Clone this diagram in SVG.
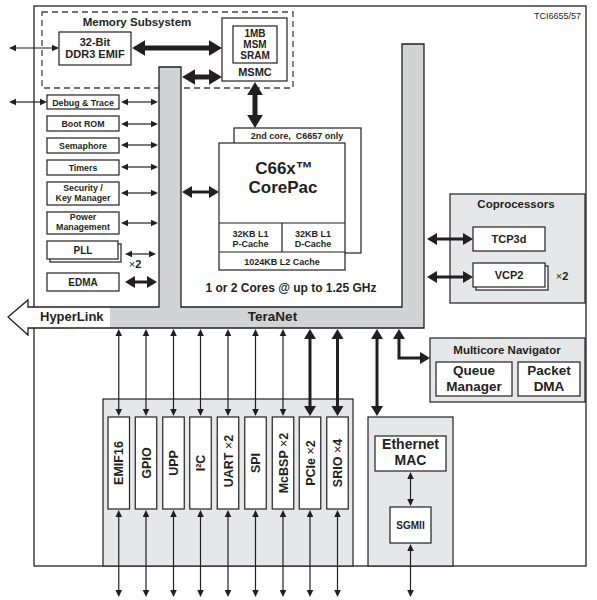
<svg xmlns="http://www.w3.org/2000/svg" width="597" height="600" viewBox="0 0 597 600">
<style>
text{font-family:"Liberation Sans",Arial,sans-serif;font-weight:bold;fill:#231f20;text-anchor:middle}
.box{fill:#fff;stroke:#231f20;stroke-width:1.2}
.panel{fill:#e6e7e8;stroke:#231f20;stroke-width:1.2}
.thin{fill:none;stroke:#231f20;stroke-width:1.2;marker-start:url(#ht);marker-end:url(#ht)}
.med{fill:none;stroke:#231f20;stroke-width:3;marker-start:url(#hm);marker-end:url(#hm)}
.thick{fill:none;stroke:#231f20;stroke-width:5;marker-start:url(#hk);marker-end:url(#hk)}
.s9{font-size:8.8px}
.rot{font-size:12.5px}
</style>
<defs>
<marker id="ht" markerUnits="userSpaceOnUse" orient="auto-start-reverse" refX="1" refY="0" markerWidth="8" markerHeight="8" overflow="visible"><path d="M0,-3.3L7,0L0,3.3z" fill="#231f20"/></marker>
<marker id="hm" markerUnits="userSpaceOnUse" orient="auto-start-reverse" refX="1" refY="0" markerWidth="11" markerHeight="12" overflow="visible"><path d="M0,-6L10,0L0,6z" fill="#231f20"/></marker>
<marker id="hk" markerUnits="userSpaceOnUse" orient="auto-start-reverse" refX="1" refY="0" markerWidth="14" markerHeight="16" overflow="visible"><path d="M0,-7.8L13,0L0,7.8z" fill="#231f20"/></marker>
</defs>
<rect width="597" height="600" fill="#fff"/>
<g id="device">
<rect x="34" y="6" width="552" height="560" fill="#fff" stroke="#231f20" stroke-width="1.3"/>
<text x="581" y="18.5" style="font-weight:normal;font-size:9px;text-anchor:end">TCI6655/57</text>
</g>
<g id="memory-subsystem">
<rect x="42" y="12" width="251" height="76" fill="none" stroke="#444" stroke-width="1.3" stroke-dasharray="6,4"/>
<text x="137" y="26" style="font-size:11.5px">Memory Subsystem</text>
</g>
<g id="teranet">
<path d="M159,67H181V307H402V44H424V328H110V307H159z" fill="#d1d3d4"/>
<path d="M110,307H28V300L8,317L28,335V328H110z" fill="#fff"/>
<path d="M159,307V67H181V307H402V44H424V328H28V335L8,317L28,300V307z" fill="none" stroke="#231f20" stroke-width="1.3"/>
<text x="40" y="321" style="font-size:13px;text-anchor:start">HyperLink</text>
<text x="272.5" y="321" style="font-size:13.5px">TeraNet</text>
</g>
<g id="ddr3-emif">
<rect class="box" x="59" y="32" width="72" height="33"/>
<text x="95" y="46" style="font-size:11px">32-Bit</text>
<text x="95" y="57.5" style="font-size:11px">DDR3 EMIF</text>
</g>
<g id="msmc">
<rect class="box" x="222" y="18" width="65" height="63"/>
<rect class="box" x="233" y="26" width="44" height="37"/>
<text x="255" y="37" style="font-size:10px">1MB</text>
<text x="255" y="48" style="font-size:10px">MSM</text>
<text x="255" y="59" style="font-size:10px">SRAM</text>
<text x="255" y="75.5" style="font-size:11px">MSMC</text>
</g>
<g id="debug-trace"><rect class="box" x="47" y="95" width="72" height="14"/><text class="s9" x="83" y="105.5">Debug &amp; Trace</text></g>
<g id="boot-rom"><rect class="box" x="47" y="116" width="72" height="15"/><text class="s9" x="83" y="127.3">Boot ROM</text></g>
<g id="semaphore"><rect class="box" x="47" y="138" width="72" height="15"/><text class="s9" x="83" y="149">Semaphore</text></g>
<g id="timers"><rect class="box" x="47" y="160" width="72" height="15"/><text class="s9" x="83" y="170.5">Timers</text></g>
<g id="security"><rect class="box" x="47" y="182" width="72" height="23"/><text class="s9" x="83" y="191">Security /</text><text class="s9" x="83" y="200.7">Key Manager</text></g>
<g id="power"><rect class="box" x="47" y="212" width="72" height="22"/><text class="s9" x="83" y="220.3">Power</text><text class="s9" x="83" y="230.3">Management</text></g>
<g id="pll"><rect class="box" x="50" y="244" width="71" height="18"/><rect class="box" x="47" y="241" width="71" height="18"/><text x="83" y="254" style="font-size:10px">PLL</text><text x="135" y="267.5" style="font-size:11px"><tspan style="font-weight:normal">×</tspan>2</text></g>
<g id="edma"><rect class="box" x="47" y="273" width="72" height="18"/><text x="83" y="286" style="font-size:10px">EDMA</text></g>
<g id="corepac">
<rect class="box" x="234" y="128" width="127" height="125"/>
<text x="297" y="139" style="font-size:9px" xml:space="preserve">2nd core,  C6657 only</text>
<rect class="box" x="219" y="143" width="126" height="127"/>
<line x1="219" y1="223" x2="345" y2="223" stroke="#231f20" stroke-width="1.2"/>
<line x1="219" y1="252" x2="345" y2="252" stroke="#231f20" stroke-width="1.2"/>
<line x1="282" y1="223" x2="282" y2="252" stroke="#231f20" stroke-width="1.2"/>
<text x="284" y="174" style="font-size:17px">C66x™</text>
<text x="283" y="193" style="font-size:17px">CorePac</text>
<text x="250.5" y="236.7" style="font-size:9px">32KB L1</text>
<text x="250.5" y="246.7" style="font-size:9px">P-Cache</text>
<text x="313" y="236.7" style="font-size:9px">32KB L1</text>
<text x="313" y="246.7" style="font-size:9px">D-Cache</text>
<text x="282" y="264.5" style="font-size:9px">1024KB L2 Cache</text>
<text x="291" y="292.3" style="font-size:12px">1 or 2 Cores @ up to 1.25 GHz</text>
</g>
<g id="coprocessors">
<rect class="panel" x="450" y="194" width="135" height="109"/>
<text x="516" y="207.7" style="font-size:11.5px">Coprocessors</text>
<g id="tcp3d"><rect class="box" x="473" y="227" width="72" height="24"/><text x="509" y="243.3" style="font-size:11px">TCP3d</text></g>
<g id="vcp2"><rect class="box" x="476" y="266" width="72" height="24"/><rect class="box" x="473" y="263" width="72" height="24"/><text x="509" y="279" style="font-size:11px">VCP2</text><text x="562" y="279.5" style="font-size:11px"><tspan style="font-weight:normal">×</tspan>2</text></g>
</g>
<g id="multicore-navigator">
<rect class="panel" x="430" y="338" width="155" height="64"/>
<text x="507" y="354" style="font-size:11.5px">Multicore Navigator</text>
<g id="queue-manager"><rect class="box" x="436" y="362" width="76" height="34"/><text x="474" y="375" style="font-size:13.5px">Queue</text><text x="474" y="391" style="font-size:13.5px">Manager</text></g>
<g id="packet-dma"><rect class="box" x="518" y="362" width="62" height="34"/><text x="549" y="375" style="font-size:13.5px">Packet</text><text x="549" y="391" style="font-size:13.5px">DMA</text></g>
</g>
<g id="peripherals">
<rect class="panel" x="103" y="399" width="250" height="167"/>
<g id="emif16"><rect class="box" x="108" y="417" width="21.5" height="92"/><text class="rot" transform="translate(118.75,463) rotate(-90)" y="4.5">EMIF16</text></g>
<g id="gpio"><rect class="box" x="135.25" y="417" width="21.5" height="92"/><text class="rot" transform="translate(146,463) rotate(-90)" y="4.5">GPIO</text></g>
<g id="upp"><rect class="box" x="162.75" y="417" width="21.5" height="92"/><text class="rot" transform="translate(173.5,463) rotate(-90)" y="4.5">UPP</text></g>
<g id="i2c"><rect class="box" x="189.75" y="417" width="21.5" height="92"/><text class="rot" transform="translate(200.5,463) rotate(-90)" y="4.5">I²C</text></g>
<g id="uart"><rect class="box" x="217.25" y="417" width="21.5" height="92"/><text class="rot" transform="translate(228,461) rotate(-90)" y="4.5" xml:space="preserve">UART <tspan style="font-weight:normal">×</tspan>2</text></g>
<g id="spi"><rect class="box" x="244.75" y="417" width="21.5" height="92"/><text class="rot" transform="translate(255.5,463) rotate(-90)" y="4.5">SPI</text></g>
<g id="mcbsp"><rect class="box" x="272.25" y="417" width="21.5" height="92"/><text class="rot" transform="translate(283,463) rotate(-90)" y="4.5" xml:space="preserve">McBSP <tspan style="font-weight:normal">×</tspan>2</text></g>
<g id="pcie"><rect class="box" x="299.25" y="417" width="21.5" height="92"/><text class="rot" transform="translate(310,463) rotate(-90)" y="4.5" xml:space="preserve">PCIe <tspan style="font-weight:normal">×</tspan>2</text></g>
<g id="srio"><rect class="box" x="326.75" y="417" width="21.5" height="92"/><text class="rot" transform="translate(337.5,463) rotate(-90)" y="4.5" xml:space="preserve">SRIO <tspan style="font-weight:normal">×</tspan>4</text></g>
</g>
<g id="ethernet">
<rect class="panel" x="368" y="417" width="85" height="149"/>
<g id="ethernet-mac"><rect class="box" x="375" y="436" width="71" height="35"/><text x="410.5" y="448.5" style="font-size:14px">Ethernet</text><text x="410.5" y="465" style="font-size:14px">MAC</text></g>
<g id="sgmii"><rect class="box" x="390" y="507" width="41" height="36"/><text x="410.5" y="528.5" style="font-size:10px">SGMII</text></g>
</g>
<g id="connectors">
<line class="thin" x1="15" y1="48" x2="53" y2="48"/>
<line class="thin" x1="15" y1="102" x2="41" y2="102"/>
<line class="thin" x1="127" y1="102" x2="152" y2="102"/>
<line class="thin" x1="127" y1="124" x2="152" y2="124"/>
<line class="thin" x1="127" y1="145" x2="152" y2="145"/>
<line class="thin" x1="127" y1="167" x2="152" y2="167"/>
<line class="thin" x1="127" y1="193" x2="152" y2="193"/>
<line class="thin" x1="127" y1="223" x2="152" y2="223"/>
<line class="thin" x1="131" y1="254" x2="150" y2="254"/>
<line class="med" x1="134" y1="282" x2="148" y2="282"/>
<line class="thick" x1="144" y1="48" x2="210" y2="48"/>
<line class="thick" x1="194" y1="77" x2="210" y2="77"/>
<line class="thick" x1="255" y1="94" x2="255" y2="116"/>
<line class="med" x1="191" y1="192" x2="210" y2="192"/>
<line class="med" x1="436" y1="239" x2="464" y2="239"/>
<line class="med" x1="436" y1="277" x2="464" y2="277"/>
<path class="med" d="M399,338V358H421"/>
<line class="med" x1="377" y1="338" x2="377" y2="407"/>
<line class="med" x1="310" y1="338" x2="310" y2="407"/>
<line class="med" x1="337.5" y1="338" x2="337.5" y2="407"/>
<line class="thin" x1="118.75" y1="335" x2="118.75" y2="410"/>
<line class="thin" x1="146" y1="335" x2="146" y2="410"/>
<line class="thin" x1="173.5" y1="335" x2="173.5" y2="410"/>
<line class="thin" x1="200.5" y1="335" x2="200.5" y2="410"/>
<line class="thin" x1="228" y1="335" x2="228" y2="410"/>
<line class="thin" x1="255.5" y1="335" x2="255.5" y2="410"/>
<line class="thin" x1="283" y1="335" x2="283" y2="410"/>
<line class="thin" x1="118.75" y1="516" x2="118.75" y2="591"/>
<line class="thin" x1="146" y1="516" x2="146" y2="591"/>
<line class="thin" x1="173.5" y1="516" x2="173.5" y2="591"/>
<line class="thin" x1="200.5" y1="516" x2="200.5" y2="591"/>
<line class="thin" x1="228" y1="516" x2="228" y2="591"/>
<line class="thin" x1="255.5" y1="516" x2="255.5" y2="591"/>
<line class="thin" x1="283" y1="516" x2="283" y2="591"/>
<line class="thin" x1="310" y1="516" x2="310" y2="591"/>
<line class="thin" x1="337.5" y1="516" x2="337.5" y2="591"/>
<line class="thin" x1="410.5" y1="478" x2="410.5" y2="500"/>
<line class="thin" x1="410.5" y1="550" x2="410.5" y2="591"/>
</g>
</svg>
